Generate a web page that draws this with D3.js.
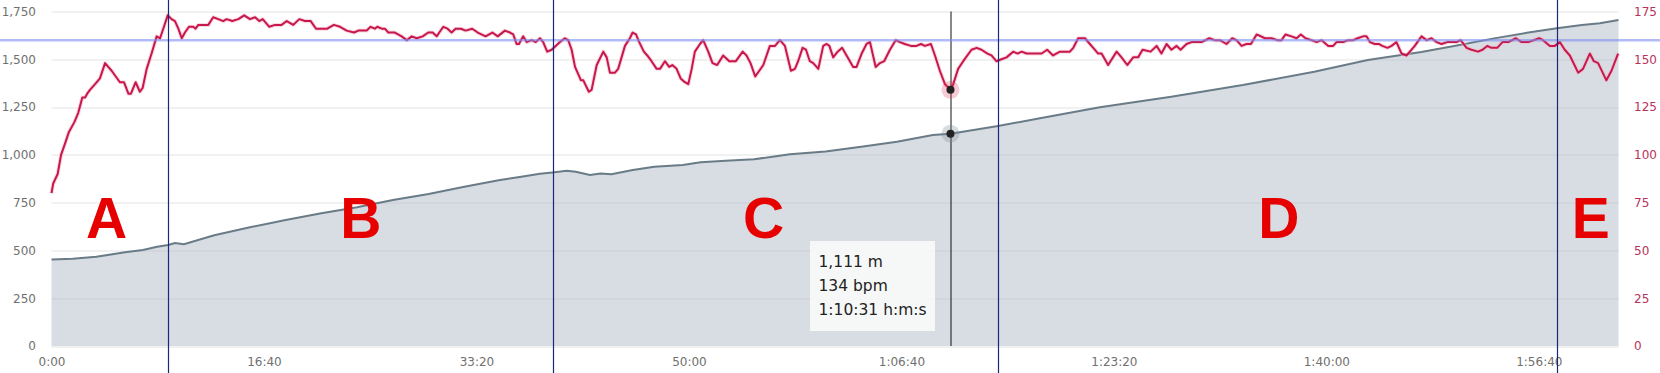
<!DOCTYPE html>
<html>
<head>
<meta charset="utf-8">
<script src="https://cdn.jsdelivr.net/npm/d3@7"></script>
<style>
  body { margin: 0; background: #fff; }
  .axis text { font-family: 'DejaVu Sans', sans-serif; font-size: 12px; }
</style>
</head>
<body>
<div id="chart"></div>
<script>
// elevation profile: [seconds, metres]
let elevation = [
  [0, 453], [100, 456], [211, 467], [346, 490], [430, 502], [497, 519],
  [549, 528], [581, 539], [623, 532], [766, 579], [934, 621], [1102, 659],
  [1270, 694], [1438, 726], [1607, 764], [1775, 795], [1943, 833], [2111, 868],
  [2211, 886], [2299, 901], [2358, 908], [2425, 917], [2467, 912], [2534, 895],
  [2584, 903], [2635, 898], [2736, 921], [2837, 938], [2971, 947], [3055, 961],
  [3173, 969], [3307, 977], [3475, 1003], [3643, 1017], [3811, 1043], [3979, 1069],
  [4148, 1104], [4231, 1111], [4455, 1151], [4652, 1191], [4934, 1249], [5270, 1304],
  [5607, 1365], [5943, 1435], [6195, 1496], [6447, 1538], [6614, 1572], [6783, 1608],
  [6951, 1640], [7085, 1662], [7203, 1679], [7287, 1688], [7375, 1705]
]

// heart rate: [seconds, bpm]
let heartRate = [
  [0, 80], [8, 85], [29, 90], [45, 100], [64, 106], [82, 112], [107, 117], [126, 122],
  [145, 130], [158, 130], [168, 132], [181, 134], [205, 137], [228, 140], [252, 148],
  [283, 144], [322, 138], [341, 138], [362, 132], [374, 132], [396, 138], [416, 133],
  [429, 135], [448, 145], [471, 153], [495, 162], [511, 161], [526, 166], [547, 173],
  [565, 171], [581, 170], [597, 166], [613, 161], [628, 164], [647, 167], [667, 167],
  [678, 166], [691, 168], [738, 168], [761, 172], [785, 171], [808, 170], [824, 171],
  [851, 170], [879, 171], [907, 173], [934, 171], [958, 172], [978, 170], [994, 171],
  [1025, 167], [1052, 168], [1083, 168], [1107, 170], [1138, 168], [1166, 171],
  [1193, 170], [1220, 170], [1245, 166], [1264, 166], [1298, 166], [1329, 168],
  [1358, 167], [1389, 165], [1424, 164], [1444, 165], [1483, 165], [1502, 167],
  [1522, 166], [1533, 167], [1554, 166], [1569, 166], [1585, 164], [1616, 164],
  [1648, 162], [1672, 160], [1695, 162], [1719, 161], [1747, 162], [1773, 164],
  [1794, 164], [1813, 162], [1825, 164], [1844, 167], [1864, 166], [1883, 164],
  [1902, 166], [1927, 166], [1949, 165], [1980, 166], [2006, 164], [2043, 162],
  [2075, 164], [2100, 162], [2134, 165], [2158, 164], [2173, 163], [2189, 158],
  [2200, 158], [2220, 162], [2236, 159], [2260, 160], [2279, 159], [2299, 161],
  [2314, 159], [2333, 154], [2354, 155], [2393, 159], [2416, 161], [2432, 160],
  [2448, 155], [2464, 146], [2492, 139], [2503, 139], [2529, 133], [2542, 134],
  [2566, 147], [2597, 154], [2613, 151], [2628, 143], [2652, 143], [2667, 145],
  [2699, 157], [2722, 161], [2735, 164], [2751, 163], [2766, 159], [2788, 154],
  [2804, 152], [2824, 149], [2848, 145], [2864, 145], [2887, 149], [2907, 146],
  [2922, 147], [2942, 145], [2961, 140], [2981, 138], [2997, 137], [3013, 145],
  [3028, 154], [3052, 158], [3067, 160], [3091, 154], [3111, 148], [3133, 147],
  [3161, 152], [3190, 149], [3221, 149], [3253, 154], [3271, 152], [3290, 148],
  [3312, 141], [3350, 147], [3381, 157], [3405, 157], [3428, 160], [3452, 157],
  [3480, 144], [3499, 145], [3514, 149], [3535, 156], [3551, 155], [3569, 149],
  [3585, 148], [3609, 145], [3632, 157], [3648, 158], [3661, 157], [3679, 151],
  [3700, 154], [3721, 156], [3742, 152], [3773, 146], [3789, 146], [3813, 153],
  [3836, 158], [3852, 159], [3879, 146], [3899, 148], [3919, 149], [3946, 155],
  [3973, 160], [3993, 159], [4016, 158], [4045, 157], [4071, 157], [4092, 158],
  [4111, 157], [4139, 158], [4158, 152], [4181, 144], [4205, 137], [4231, 134],
  [4244, 137], [4267, 145], [4291, 149], [4330, 155], [4354, 156], [4377, 155],
  [4405, 153], [4424, 152], [4447, 149], [4471, 150], [4495, 151], [4526, 154],
  [4547, 153], [4566, 154], [4589, 153], [4660, 153], [4686, 155], [4714, 152],
  [4746, 154], [4793, 154], [4809, 156], [4832, 161], [4864, 161], [4887, 158],
  [4903, 156], [4926, 153], [4942, 153], [4973, 147], [5013, 154], [5036, 151],
  [5063, 147], [5091, 151], [5114, 151], [5135, 155], [5173, 154], [5201, 157],
  [5224, 153], [5248, 158], [5271, 155], [5295, 157], [5314, 155], [5342, 158],
  [5366, 159], [5413, 159], [5449, 161], [5475, 160], [5499, 160], [5530, 158],
  [5557, 161], [5577, 160], [5601, 157], [5624, 158], [5645, 158], [5672, 163],
  [5711, 161], [5742, 161], [5770, 160], [5789, 160], [5808, 163], [5836, 162],
  [5860, 161], [5880, 163], [5902, 161], [5930, 160], [5954, 159], [5978, 160],
  [6009, 157], [6032, 157], [6048, 159], [6079, 159], [6103, 160], [6126, 160],
  [6147, 161], [6173, 162], [6189, 162], [6205, 159], [6228, 158], [6247, 158],
  [6263, 157], [6288, 156], [6307, 157], [6330, 159], [6354, 153], [6377, 152],
  [6401, 155], [6416, 157], [6448, 162], [6472, 160], [6495, 161], [6519, 159],
  [6542, 158], [6569, 159], [6613, 159], [6632, 160], [6660, 156], [6683, 155],
  [6714, 154], [6735, 155], [6757, 157], [6777, 156], [6804, 156], [6829, 159],
  [6856, 159], [6892, 161], [6919, 159], [6950, 159], [7002, 161], [7020, 160],
  [7052, 157], [7075, 157], [7099, 159], [7122, 155], [7146, 152], [7185, 143],
  [7208, 145], [7240, 153], [7259, 149], [7279, 148], [7318, 139], [7342, 144],
  [7373, 153]
]

let timeTicks = [0, 1000, 2000, 3000, 4000, 5000, 6000, 7000]
let elevTicks = [0, 250, 500, 750, 1000, 1250, 1500, 1750]
let hrTicks = [0, 25, 50, 75, 100, 125, 150, 175]

// lap boundaries (seconds) and lap letters
let lapSplits = [549, 2358, 4455, 7085]
let lapNames = ['A', 'B', 'C', 'D', 'E']
let lapLabelTimes = [259, 1456, 3351, 5776, 7244]

let thresholdBpm = 160
let hover = { time: 4231, elev: 1111, hr: 134 }

let totalWidth = 1660
let totalHeight = 373
let margin = { top: 11.5, left: 51.5, right: 41.5, bottom: 27 }
let width = totalWidth - margin.left - margin.right
let height = totalHeight - margin.top - margin.bottom

let svg = d3
  .select('#chart')
  .append('svg')
  .attr('width', totalWidth)
  .attr('height', totalHeight)

let g = svg
  .append('g')
  .attr('transform', 'translate(' + margin.left + ',' + margin.top + ')')

let xPositionScale = d3.scaleLinear().domain([0, 7375]).range([0, width])
let elevScale = d3.scaleLinear().domain([0, 1750]).range([height, 0])
let hrScale = d3.scaleLinear().domain([0, 175]).range([height, 0])

function formatTime(s) {
  let h = Math.floor(s / 3600)
  let m = Math.floor((s % 3600) / 60)
  let sec = s % 60
  let pad = n => (n < 10 ? '0' + n : '' + n)
  if (h > 0) return h + ':' + pad(m) + ':' + pad(sec)
  return m + ':' + pad(sec)
}

// gridlines
g.selectAll('.grid')
  .data(elevTicks)
  .enter()
  .append('line')
  .attr('class', 'grid')
  .attr('x1', 0)
  .attr('x2', width)
  .attr('y1', d => Math.round(elevScale(d)) + 0.5)
  .attr('y2', d => Math.round(elevScale(d)) + 0.5)
  .attr('stroke', '#e3e3e3')
  .attr('stroke-width', 1)

// elevation area + line
let area = d3
  .area()
  .x(d => xPositionScale(d[0]))
  .y0(height)
  .y1(d => elevScale(d[1]))

let elevLine = d3
  .line()
  .x(d => xPositionScale(d[0]))
  .y(d => elevScale(d[1]))

g.append('path')
  .datum(elevation)
  .attr('d', area)
  .attr('fill', 'rgb(176,187,198)')
  .attr('fill-opacity', 0.5)

g.append('path')
  .datum(elevation)
  .attr('d', elevLine)
  .attr('fill', 'none')
  .attr('stroke', '#6a7b88')
  .attr('stroke-width', 2)

// heart rate line
let hrLine = d3
  .line()
  .x(d => xPositionScale(d[0]))
  .y(d => hrScale(d[1]))

g.append('path')
  .datum(heartRate)
  .attr('d', hrLine)
  .attr('fill', 'none')
  .attr('stroke', '#f4b3c4')
  .attr('stroke-width', 4)
  .attr('stroke-opacity', 0.5)
  .attr('stroke-linejoin', 'round')

g.append('path')
  .datum(heartRate)
  .attr('d', hrLine)
  .attr('fill', 'none')
  .attr('stroke', '#c8174c')
  .attr('stroke-width', 2)
  .attr('stroke-linejoin', 'round')

// threshold line across the whole chart
svg
  .append('line')
  .attr('x1', 0)
  .attr('x2', totalWidth)
  .attr('y1', margin.top + hrScale(thresholdBpm))
  .attr('y2', margin.top + hrScale(thresholdBpm))
  .attr('stroke', '#7d8ff0')
  .attr('stroke-opacity', 0.6)
  .attr('stroke-width', 2.5)

// lap split lines, full height
svg
  .selectAll('.lap-line')
  .data(lapSplits)
  .enter()
  .append('line')
  .attr('class', 'lap-line')
  .attr('x1', d => Math.round(margin.left + xPositionScale(d)) + 0.5)
  .attr('x2', d => Math.round(margin.left + xPositionScale(d)) + 0.5)
  .attr('y1', 0)
  .attr('y2', totalHeight)
  .attr('stroke', '#1b2878')
  .attr('stroke-width', 1.2)

// lap letters
g.selectAll('.lap-text')
  .data(lapNames)
  .enter()
  .append('text')
  .attr('class', 'lap-text')
  .attr('x', (d, i) => xPositionScale(lapLabelTimes[i]))
  .attr('y', 226.5)
  .attr('text-anchor', 'middle')
  .attr('font-family', "'Liberation Sans', Arial, sans-serif")
  .attr('font-weight', 'bold')
  .attr('font-size', 57)
  .attr('fill', '#e60000')
  .text(d => d)

// axes
let yAxisLeft = d3
  .axisLeft(elevScale)
  .tickValues(elevTicks)
  .tickSize(0)
  .tickPadding(15.5)
  .tickFormat(d3.format(','))
g.append('g')
  .attr('class', 'axis y-axis')
  .call(yAxisLeft)
  .call(s => s.select('.domain').remove())
  .selectAll('text')
  .attr('fill', '#707070')

let yAxisRight = d3
  .axisRight(hrScale)
  .tickValues(hrTicks)
  .tickSize(0)
  .tickPadding(15.5)
g.append('g')
  .attr('class', 'axis y-axis-right')
  .attr('transform', 'translate(' + width + ',0)')
  .call(yAxisRight)
  .call(s => s.select('.domain').remove())
  .selectAll('text')
  .attr('fill', '#b8325a')

let xAxis = d3
  .axisBottom(xPositionScale)
  .tickValues(timeTicks)
  .tickSize(0)
  .tickPadding(11)
  .tickFormat(formatTime)
g.append('g')
  .attr('class', 'axis x-axis')
  .attr('transform', 'translate(0,' + height + ')')
  .call(xAxis)
  .call(s => s.select('.domain').remove())
  .selectAll('text')
  .attr('fill', '#707070')

// hover crosshair and markers
let hx = xPositionScale(hover.time)
g.append('line')
  .attr('x1', Math.round(hx) + 0.5)
  .attr('x2', Math.round(hx) + 0.5)
  .attr('y1', 0)
  .attr('y2', height)
  .attr('stroke', '#111')
  .attr('stroke-width', 1)

g.append('circle')
  .attr('cx', hx)
  .attr('cy', hrScale(hover.hr))
  .attr('r', 9)
  .attr('fill', '#e0304f')
  .attr('fill-opacity', 0.25)
g.append('circle')
  .attr('cx', hx)
  .attr('cy', hrScale(hover.hr))
  .attr('r', 4)
  .attr('fill', '#222')

g.append('circle')
  .attr('cx', hx)
  .attr('cy', elevScale(hover.elev))
  .attr('r', 9)
  .attr('fill', '#7a8b99')
  .attr('fill-opacity', 0.3)
g.append('circle')
  .attr('cx', hx)
  .attr('cy', elevScale(hover.elev))
  .attr('r', 4)
  .attr('fill', '#222')

// tooltip box
let tip = g.append('g').attr('transform', 'translate(' + (hx - 140.5) + ',' + 229.5 + ')')
tip
  .append('rect')
  .attr('width', 125)
  .attr('height', 90)
  .attr('fill', '#f8f8f8')
  .attr('fill-opacity', 0.95)

let tipLines = [
  d3.format(',')(hover.elev) + ' m',
  hover.hr + ' bpm',
  formatTime(hover.time) + ' h:m:s'
]
tip
  .selectAll('text')
  .data(tipLines)
  .enter()
  .append('text')
  .attr('x', 8.5)
  .attr('y', (d, i) => 26 + i * 24)
  .attr('font-family', "'DejaVu Sans', sans-serif")
  .attr('font-size', 15.5)
  .attr('fill', '#222')
  .text(d => d)
</script>
</body>
</html>
